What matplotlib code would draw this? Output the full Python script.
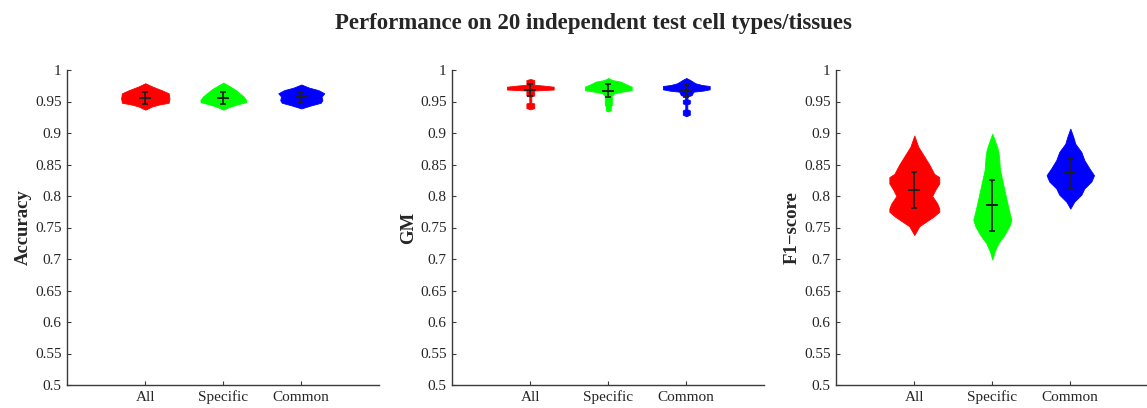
import matplotlib
matplotlib.use("Agg")
import matplotlib.pyplot as plt
import numpy as np

plt.rcParams['font.family'] = ['Liberation Serif', 'DejaVu Serif']
plt.rcParams['mathtext.fontset'] = 'stix'

title = "Performance on 20 independent test cell types/tissues"
groups = ["All", "Specific", "Common"]
colors = ["#ff0000", "#00ff00", "#0000ff"]
metrics = ["Accuracy", "GM", "F1\u2212score"]
yticks = [0.5, 0.55, 0.6, 0.65, 0.7, 0.75, 0.8, 0.85, 0.9, 0.95, 1.0]
yticklabels = ["0.5", "0.55", "0.6", "0.65", "0.7", "0.75", "0.8", "0.85", "0.9", "0.95", "1"]

# Violin outlines: value levels and half-widths (x units)
acc_all_y = [0.979, 0.974, 0.968, 0.963, 0.955, 0.948, 0.945, 0.942, 0.937]
acc_all_w = [0.0, 0.085, 0.21, 0.30, 0.31, 0.30, 0.17, 0.085, 0.0]
acc_spec_y = [0.980, 0.975, 0.970, 0.964, 0.958, 0.952, 0.949, 0.945, 0.941, 0.937]
acc_spec_w = [0.0, 0.07, 0.14, 0.20, 0.26, 0.295, 0.29, 0.17, 0.07, 0.0]
acc_comm_y = [0.977, 0.972, 0.968, 0.963, 0.958, 0.952, 0.948, 0.944, 0.939]
acc_comm_w = [0.0, 0.10, 0.22, 0.295, 0.26, 0.27, 0.25, 0.13, 0.0]

gm_all_y = [0.9857, 0.984, 0.9765, 0.9755, 0.9735, 0.969, 0.9675, 0.9595, 0.958, 0.948, 0.947, 0.9395, 0.9375]
gm_all_w = [0.0, 0.05, 0.05, 0.15, 0.30, 0.30, 0.05, 0.05, 0.013, 0.013, 0.05, 0.05, 0.0]
gm_spec_y = [0.9873, 0.9841, 0.9815, 0.9778, 0.9735, 0.968, 0.9656, 0.963, 0.9587, 0.9566, 0.944, 0.9428, 0.936, 0.934]
gm_spec_w = [0.0, 0.051, 0.16, 0.22, 0.30, 0.30, 0.18, 0.075, 0.043, 0.045, 0.045, 0.03, 0.032, 0.0]
gm_comm_y = [0.9873, 0.9841, 0.979, 0.9762, 0.9746, 0.9693, 0.967, 0.9656, 0.9603, 0.9577, 0.9534, 0.9524, 0.947,
             0.9455, 0.9376, 0.936, 0.929, 0.9265]
gm_comm_w = [0.0, 0.05, 0.115, 0.20, 0.30, 0.30, 0.20, 0.09, 0.07, 0.015, 0.015, 0.045, 0.045,
             0.013, 0.013, 0.045, 0.045, 0.0]

f1_all_y = [0.896, 0.878, 0.866, 0.850, 0.835, 0.830, 0.820, 0.810, 0.800, 0.788, 0.780, 0.775, 0.767, 0.760, 0.752, 0.738]
f1_all_w = [0.0, 0.051, 0.112, 0.192, 0.256, 0.32, 0.32, 0.27, 0.23, 0.295, 0.32, 0.32, 0.244, 0.16, 0.064, 0.0]
f1_spec_y = [0.899, 0.883, 0.873, 0.862, 0.841, 0.825, 0.807, 0.791, 0.775, 0.762, 0.752, 0.738, 0.725, 0.712, 0.699]
f1_spec_w = [0.0, 0.047, 0.073, 0.086, 0.099, 0.128, 0.16, 0.188, 0.218, 0.244, 0.218, 0.154, 0.077, 0.03, 0.0]
f1_comm_y = [0.907, 0.894, 0.883, 0.870, 0.857, 0.844, 0.833, 0.823, 0.812, 0.802, 0.791, 0.780]
f1_comm_w = [0.0, 0.038, 0.064, 0.141, 0.18, 0.244, 0.304, 0.27, 0.18, 0.141, 0.051, 0.0]

# Means and standard deviations
acc_mean = [0.956, 0.956, 0.957]
acc_std = [0.0092, 0.0092, 0.0085]
gm_mean = [0.968, 0.967, 0.968]
gm_std = [0.0092, 0.0105, 0.0105]
f1_mean = [0.8095, 0.785, 0.836]
f1_std = [0.0285, 0.040, 0.024]

panels = [
    ([(acc_all_y, acc_all_w), (acc_spec_y, acc_spec_w), (acc_comm_y, acc_comm_w)], acc_mean, acc_std),
    ([(gm_all_y, gm_all_w), (gm_spec_y, gm_spec_w), (gm_comm_y, gm_comm_w)], gm_mean, gm_std),
    ([(f1_all_y, f1_all_w), (f1_spec_y, f1_spec_w), (f1_comm_y, f1_comm_w)], f1_mean, f1_std),
]

fig = plt.figure(figsize=(11.47, 4.08), dpi=100)
lefts = [67.3 / 1147, 452.3 / 1147, 836.3 / 1147]
axc = "#3a3a3a"
txc = "#262626"
for k, (prof, means, stds) in enumerate(panels):
    ax = fig.add_axes([lefts[k], 23 / 408, 312 / 1147, 315 / 408])
    pos = np.arange(1, len(groups) + 1)
    for i, (yy, ww) in enumerate(prof):
        yy = np.array(yy)
        ww = np.array(ww)
        ax.fill_betweenx(yy, pos[i] - ww, pos[i] + ww, color=colors[i], linewidth=0.6,
                         edgecolor=colors[i])
    ax.errorbar(pos, means, yerr=stds, fmt='none', ecolor='#1e1e1e', elinewidth=1.2,
                capsize=2.2, capthick=1.2, zorder=5)
    ax.plot(pos, means, linestyle='none', marker='_', markersize=9, mew=1.4,
            color='#1e1e1e', zorder=6)
    ax.set_xlim(0, 4)
    ax.set_ylim(0.5, 1.0)
    ax.set_xticks(pos)
    ax.set_xticklabels(groups)
    ax.set_yticks(yticks)
    ax.set_yticklabels(yticklabels)
    for s in ['top', 'right']:
        ax.spines[s].set_visible(False)
    for s in ['left', 'bottom']:
        ax.spines[s].set_color(axc)
        ax.spines[s].set_linewidth(1.0)
    ax.tick_params(direction='in', length=3, width=0.8, color=axc, labelsize=11,
                   labelcolor=txc)
    ax.tick_params(axis='y', pad=4)
    ax.tick_params(axis='x', pad=4)
    ax.set_ylabel(metrics[k], fontsize=13.5, fontweight='bold', color=txc)
    ax.yaxis.set_label_coords(-0.113, 0.5)

fig.text(593 / 1147, 1 - 29.5 / 408, title, ha='center', va='baseline', fontsize=16.5,
         fontweight='bold', color=txc)

fig.savefig("out.png", dpi=100)
